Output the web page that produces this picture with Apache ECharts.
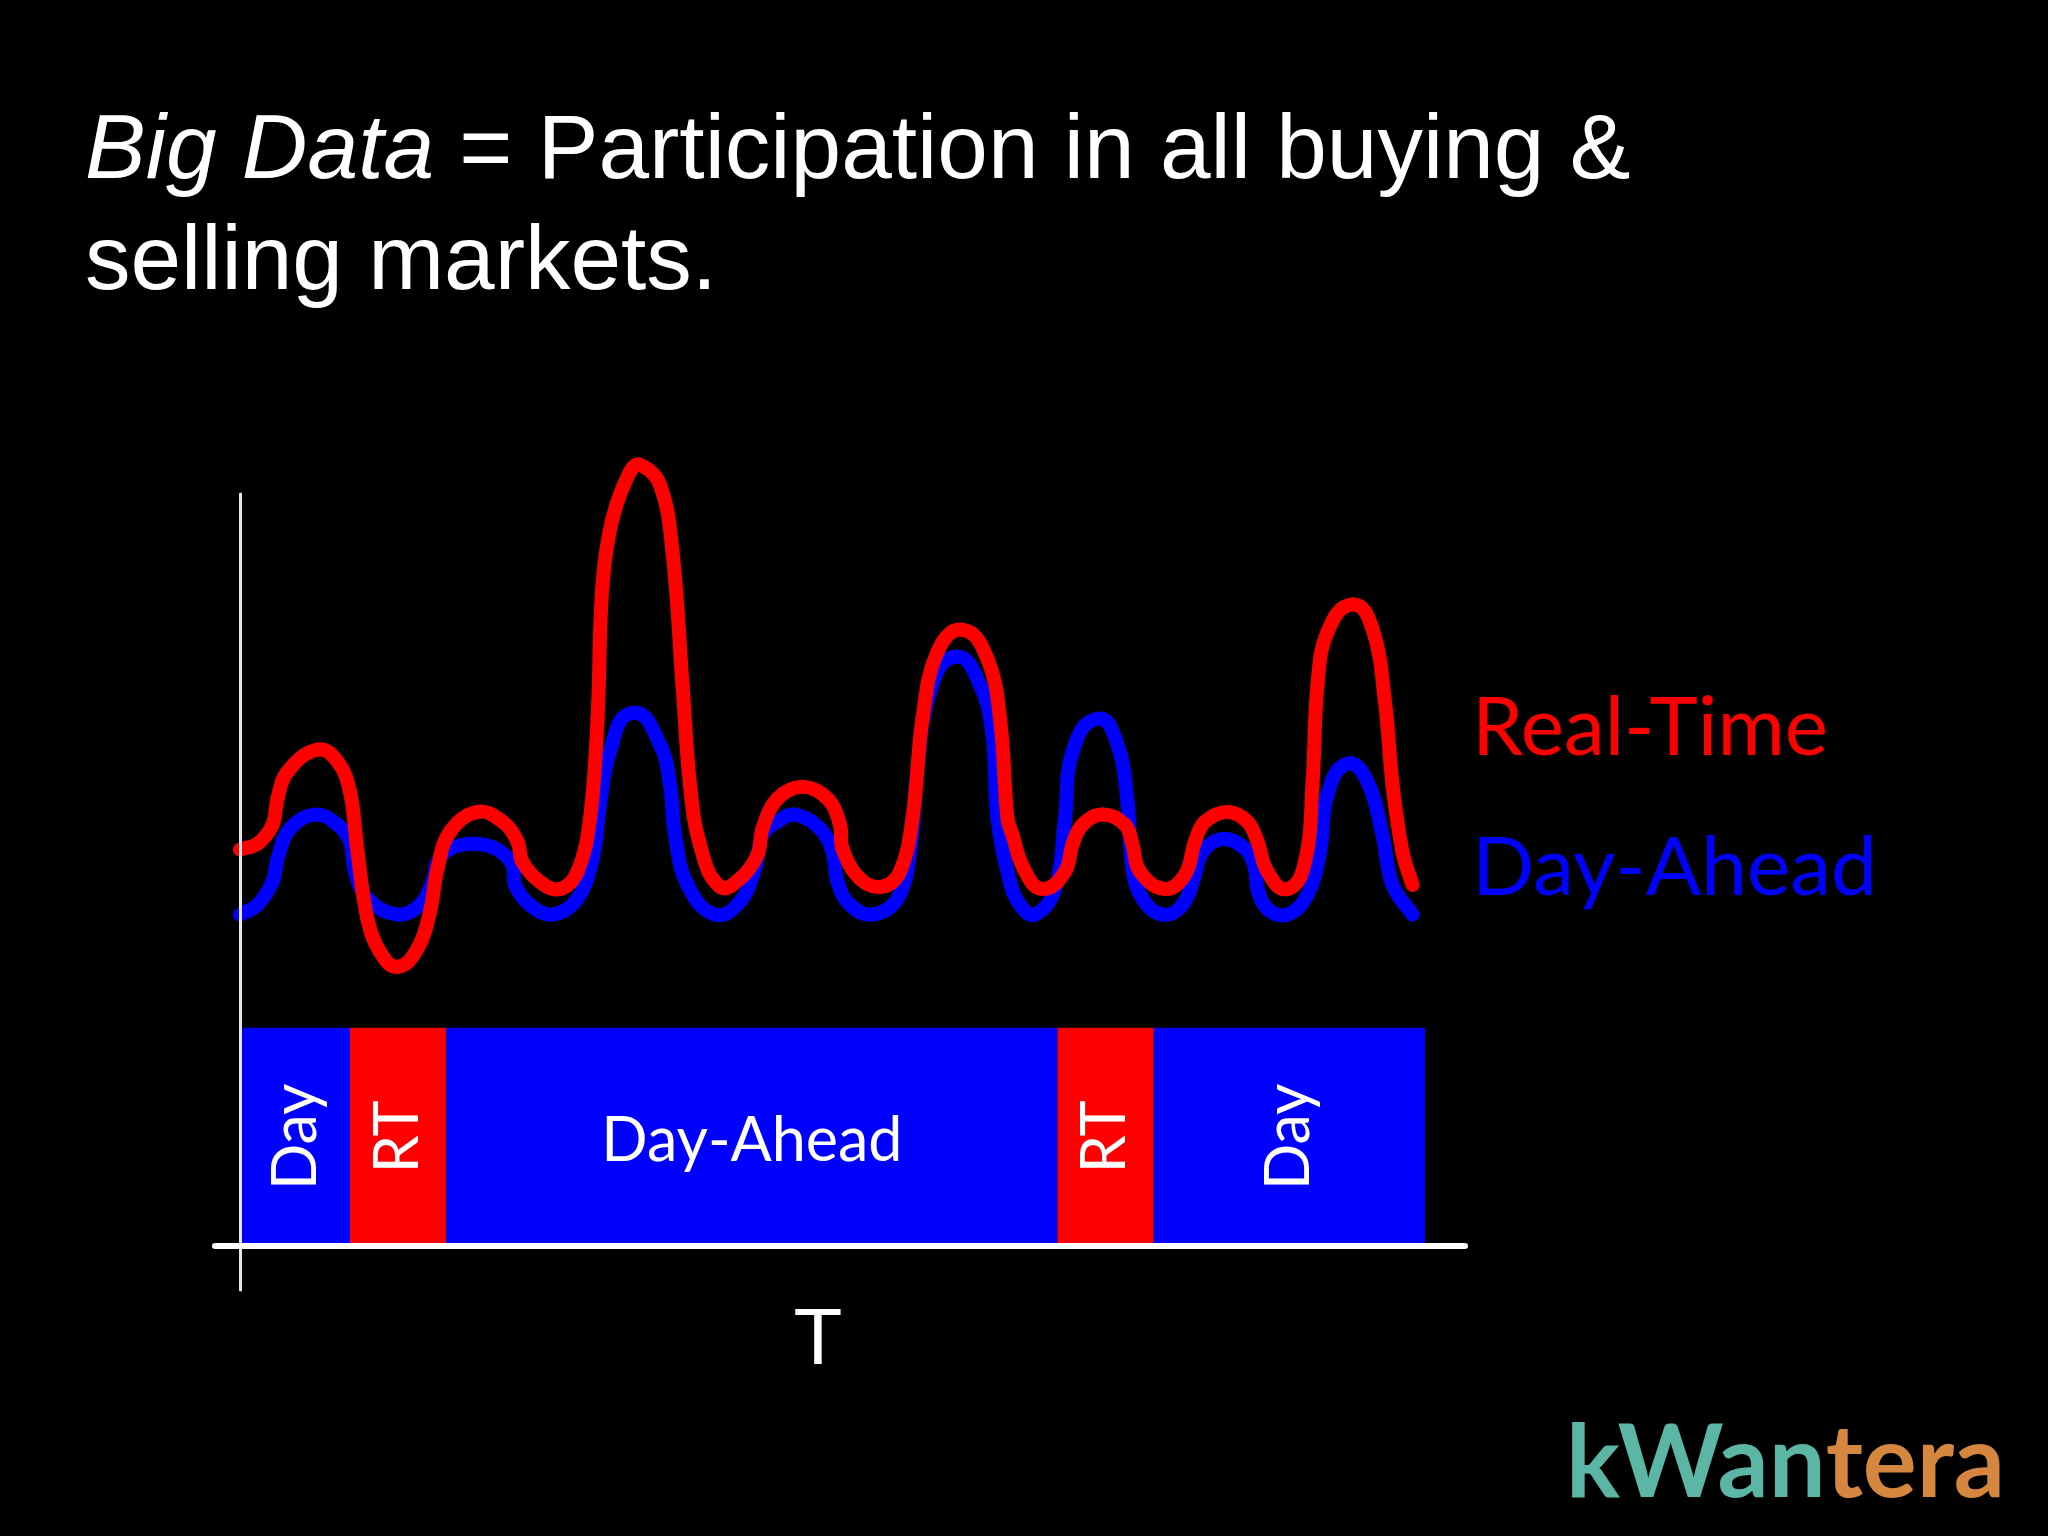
<!DOCTYPE html>
<html>
<head>
<meta charset="utf-8">
<script src="https://cdn.jsdelivr.net/npm/echarts@6/dist/echarts.min.js"></script>
<style>
html,body{margin:0;padding:0;background:#000;}
#chart{width:2048px;height:1536px;}
</style>
</head>
<body>
<div id="chart"></div>
<script>
// ---- data (x = time units, y = price units) ----
const seriesNames = ['Real-Time', 'Day-Ahead'];

const dayAheadPoints = [
  [0,7.49],[1.4,7.71],[2.6,8.23],[3.0,8.75],[4.0,9.43],[6.0,9.75],[7.8,9.52],[8.8,9.14],[9.2,8.46],[10.2,7.85],
  [12.6,7.49],[14.4,7.71],[15.4,8.23],[15.8,8.68],[16.8,8.98],[18.8,9.09],[20.6,8.96],[21.8,8.62],[22.0,8.16],[23.2,7.71],
  [25.0,7.49],[27.0,7.85],[28.2,8.75],[28.8,9.97],[29.6,11.17],[31.4,12.05],[33.6,11.33],[34.4,10.43],[34.8,9.29],[35.8,8.16],
  [38.0,7.49],[40.0,7.78],[41.2,8.53],[41.8,9.29],[43.0,9.59],[44.4,9.75],[46.4,9.43],[47.4,8.91],[47.8,8.23],[48.8,7.71],
  [50.6,7.49],[52.6,7.85],[53.6,8.91],[54.2,10.79],[55.2,12.53],[57.2,13.32],[59.2,12.69],[60.2,11.56],[60.6,9.66],[61.6,8.23],
  [62.4,7.71],[63.6,7.49],[65.2,8.07],[66.0,9.66],[66.6,11.17],[68.6,11.92],[70.2,11.33],[71.0,10.04],[71.4,8.53],[72.2,7.85],
  [73.8,7.49],[75.4,7.71],[76.4,8.39],[77.0,8.91],[78.6,9.20],[80.4,8.98],[81.2,8.53],[81.4,8.07],[82.2,7.62],[83.8,7.49],
  [85.4,7.94],[86.4,8.91],[87.0,10.2],[88.6,10.9],[90.2,10.49],[91.4,9.29],[92.2,8.16],[93.8,7.49]
];

const realTimePoints = [
  [0,8.96],[1.4,9.09],[2.6,9.52],[3.0,10.11],[3.8,10.72],[6.2,11.22],[7.8,10.95],[8.8,10.27],[9.4,8.91],[10.2,7.39],
  [11.2,6.65],[12.6,6.31],[14.2,6.72],[15.2,7.55],[15.8,8.53],[16.8,9.36],[19.0,9.81],[21.0,9.59],[22.2,9.14],[22.6,8.68],
  [24.0,8.23],[25.6,8.07],[27.0,8.46],[28.0,9.66],[28.6,11.92],[29.0,14.95],[29.8,16.44],[31.2,17.5],[32.0,17.66],[33.6,17.21],
  [34.6,15.69],[35.4,12.69],[36.0,10.43],[36.8,9.07],[38.4,8.12],[40.0,8.30],[41.4,8.84],[41.8,9.43],[43.0,10.11],[45.0,10.38],
  [47.0,10.11],[48.0,9.52],[48.2,8.98],[49.6,8.30],[51.4,8.12],[52.8,8.46],[53.8,9.66],[54.6,11.92],[55.8,13.43],[57.8,13.93],
  [59.8,13.27],[60.8,11.92],[61.4,9.66],[61.8,9.29],[62.7,8.53],[64.2,8.07],[66.0,8.46],[66.6,9.07],[67.4,9.52],[69.0,9.75],
  [70.8,9.52],[71.4,9.07],[72.0,8.46],[74.0,8.07],[75.6,8.39],[76.4,9.14],[77.2,9.59],[79.0,9.81],[80.6,9.59],[81.4,9.14],
  [82.2,8.46],[83.8,8.07],[85.2,8.68],[85.8,10.43],[86.2,12.69],[87.0,13.88],[89.0,14.5],[90.6,13.95],[91.6,12.3],[92.2,10.43],
  [93.0,8.91],[93.8,8.16]
];

// market participation blocks along the time axis
const blockStarts = [0.15, 8.8, 16.5, 65.4, 73.1];
const blockEnds   = [8.8, 16.5, 65.4, 73.1, 94.8];
const blockLabels = ['Day', 'RT', 'Day-Ahead', 'RT', 'Day'];
const blockKinds  = ['DA', 'RT', 'DA', 'RT', 'DA'];
const blockHeight = 4.93;
const blockVertical = [true, true, false, true, true];

const titleText = '{i|Big Data} = Participation in all buying &\nselling markets.';
const axisName = 'T';
const logoParts = ['kWan', 'tera'];

// ---- styling ----
const RED = '#ff0000', BLUE = '#0000ff';
const kindColor = { RT: RED, DA: BLUE };
const blockData = blockStarts.map((s, i) => [s, blockEnds[i], blockHeight, blockLabels[i], blockKinds[i], blockVertical[i] ? 1 : 0]);

// smooth curve through the data points: each piece is a cubic between two
// neighbouring points, positioned through the chart's own axes (api.coord)
function smoothCurve(points, color) {
  return function (params, api) {
    const n = points.length;
    const i = params.dataIndex;
    if (i >= n - 1) return null;
    const at = k => api.coord(points[Math.max(0, Math.min(n - 1, k))]);
    const p0 = at(i - 1), p1 = at(i), p2 = at(i + 1), p3 = at(i + 2);
    const unit = (a, b) => { const dx = b[0] - a[0], dy = b[1] - a[1]; const l = Math.hypot(dx, dy) || 1; return [dx / l, dy / l]; };
    const d1 = unit(p0, p2), d2 = unit(p1, p3);
    const len = Math.hypot(p2[0] - p1[0], p2[1] - p1[1]) * 0.38;
    return {
      type: 'bezierCurve',
      shape: {
        x1: p1[0], y1: p1[1], x2: p2[0], y2: p2[1],
        cpx1: p1[0] + d1[0] * len, cpy1: p1[1] + d1[1] * len,
        cpx2: p2[0] - d2[0] * len, cpy2: p2[1] - d2[1] * len
      },
      style: { stroke: color, lineWidth: 14, fill: 'none', lineCap: 'round' }
    };
  };
}

const chart = echarts.init(document.getElementById('chart'), null, { renderer: 'canvas' });
chart.setOption({
  backgroundColor: '#000000',
  animation: false,
  title: [
    {
      text: titleText,
      left: 85, top: 97, padding: 0,
      textStyle: {
        color: '#ffffff', fontFamily: 'Liberation Sans, Arial, sans-serif', fontSize: 91, fontWeight: 'normal', lineHeight: 111,
        rich: { i: { fontStyle: 'italic', color: '#ffffff', fontFamily: 'Liberation Sans, Arial, sans-serif', fontSize: 91, lineHeight: 111 } }
      }
    },
    {
      text: '{a|' + logoParts[0] + '}{b|' + logoParts[1] + '}',
      left: 1566, top: 1404, padding: 0,
      textStyle: {
        rich: {
          a: { color: '#5bb6a6', fontFamily: 'Lato, sans-serif', fontWeight: 'bold', fontSize: 101, lineHeight: 121 },
          b: { color: '#d5863f', fontFamily: 'Lato, sans-serif', fontWeight: 'bold', fontSize: 101, lineHeight: 121 }
        }
      }
    }
  ],
  legend: {
    data: [
      { name: seriesNames[0], textStyle: { color: RED } },
      { name: seriesNames[1], textStyle: { color: BLUE } }
    ],
    orient: 'vertical', left: 1467, top: 679, padding: 0,
    icon: 'none', itemWidth: 0, itemHeight: 10, itemGap: 40, selectedMode: false,
    textStyle: { fontFamily: 'Lato, sans-serif', fontSize: 82, lineHeight: 100 }
  },
  grid: { left: 215, width: 1250, top: 494, height: 796, containLabel: false },
  xAxis: {
    type: 'value', min: -2, max: 98, z: 5,
    name: axisName, nameLocation: 'middle', nameGap: 12,
    nameTextStyle: { color: '#ffffff', fontFamily: 'Liberation Sans, Arial, sans-serif', fontSize: 80, padding: [0, 44, 0, 0] },
    axisLine: { show: true, onZero: true, lineStyle: { color: '#ffffff', width: 6 } },
    axisTick: { show: false }, axisLabel: { show: false }, splitLine: { show: false }
  },
  yAxis: {
    type: 'value', min: -1, max: 17, z: 5,
    axisLine: { show: true, onZero: true, lineStyle: { color: '#e6e6e6', width: 3 } },
    axisTick: { show: false }, axisLabel: { show: false }, splitLine: { show: false }
  },
  series: [
    {
      type: 'custom', name: 'blocks', z: 1,
      data: blockData,
      encode: { x: [0, 1], y: 2 },
      renderItem: function (params, api) {
        const p0 = api.coord([api.value(0), 0]);
        const p1 = api.coord([api.value(1), api.value(2)]);
        const color = kindColor[api.value(4)];
        const vertical = api.value(5) === 1;
        const cx = (p0[0] + p1[0]) / 2, cy = (p0[1] + p1[1]) / 2;
        return {
          type: 'group',
          children: [
            { type: 'rect', shape: { x: p0[0], y: p1[1], width: p1[0] - p0[0], height: p0[1] - p1[1] }, style: { fill: color } },
            { type: 'text', x: cx, y: vertical ? cy : cy + 5, rotation: vertical ? Math.PI / 2 : 0,
              style: { text: api.value(3), fill: '#ffffff', font: '61px Lato, sans-serif', align: 'center', verticalAlign: 'middle' } }
          ]
        };
      }
    },
    {
      type: 'custom', name: seriesNames[1], data: dayAheadPoints, encode: { x: 0, y: 1 }, z: 3, clip: false,
      itemStyle: { color: BLUE },
      renderItem: smoothCurve(dayAheadPoints, BLUE)
    },
    {
      type: 'custom', name: seriesNames[0], data: realTimePoints, encode: { x: 0, y: 1 }, z: 4, clip: false,
      itemStyle: { color: RED },
      renderItem: smoothCurve(realTimePoints, RED)
    }
  ]
});
</script>
</body>
</html>
